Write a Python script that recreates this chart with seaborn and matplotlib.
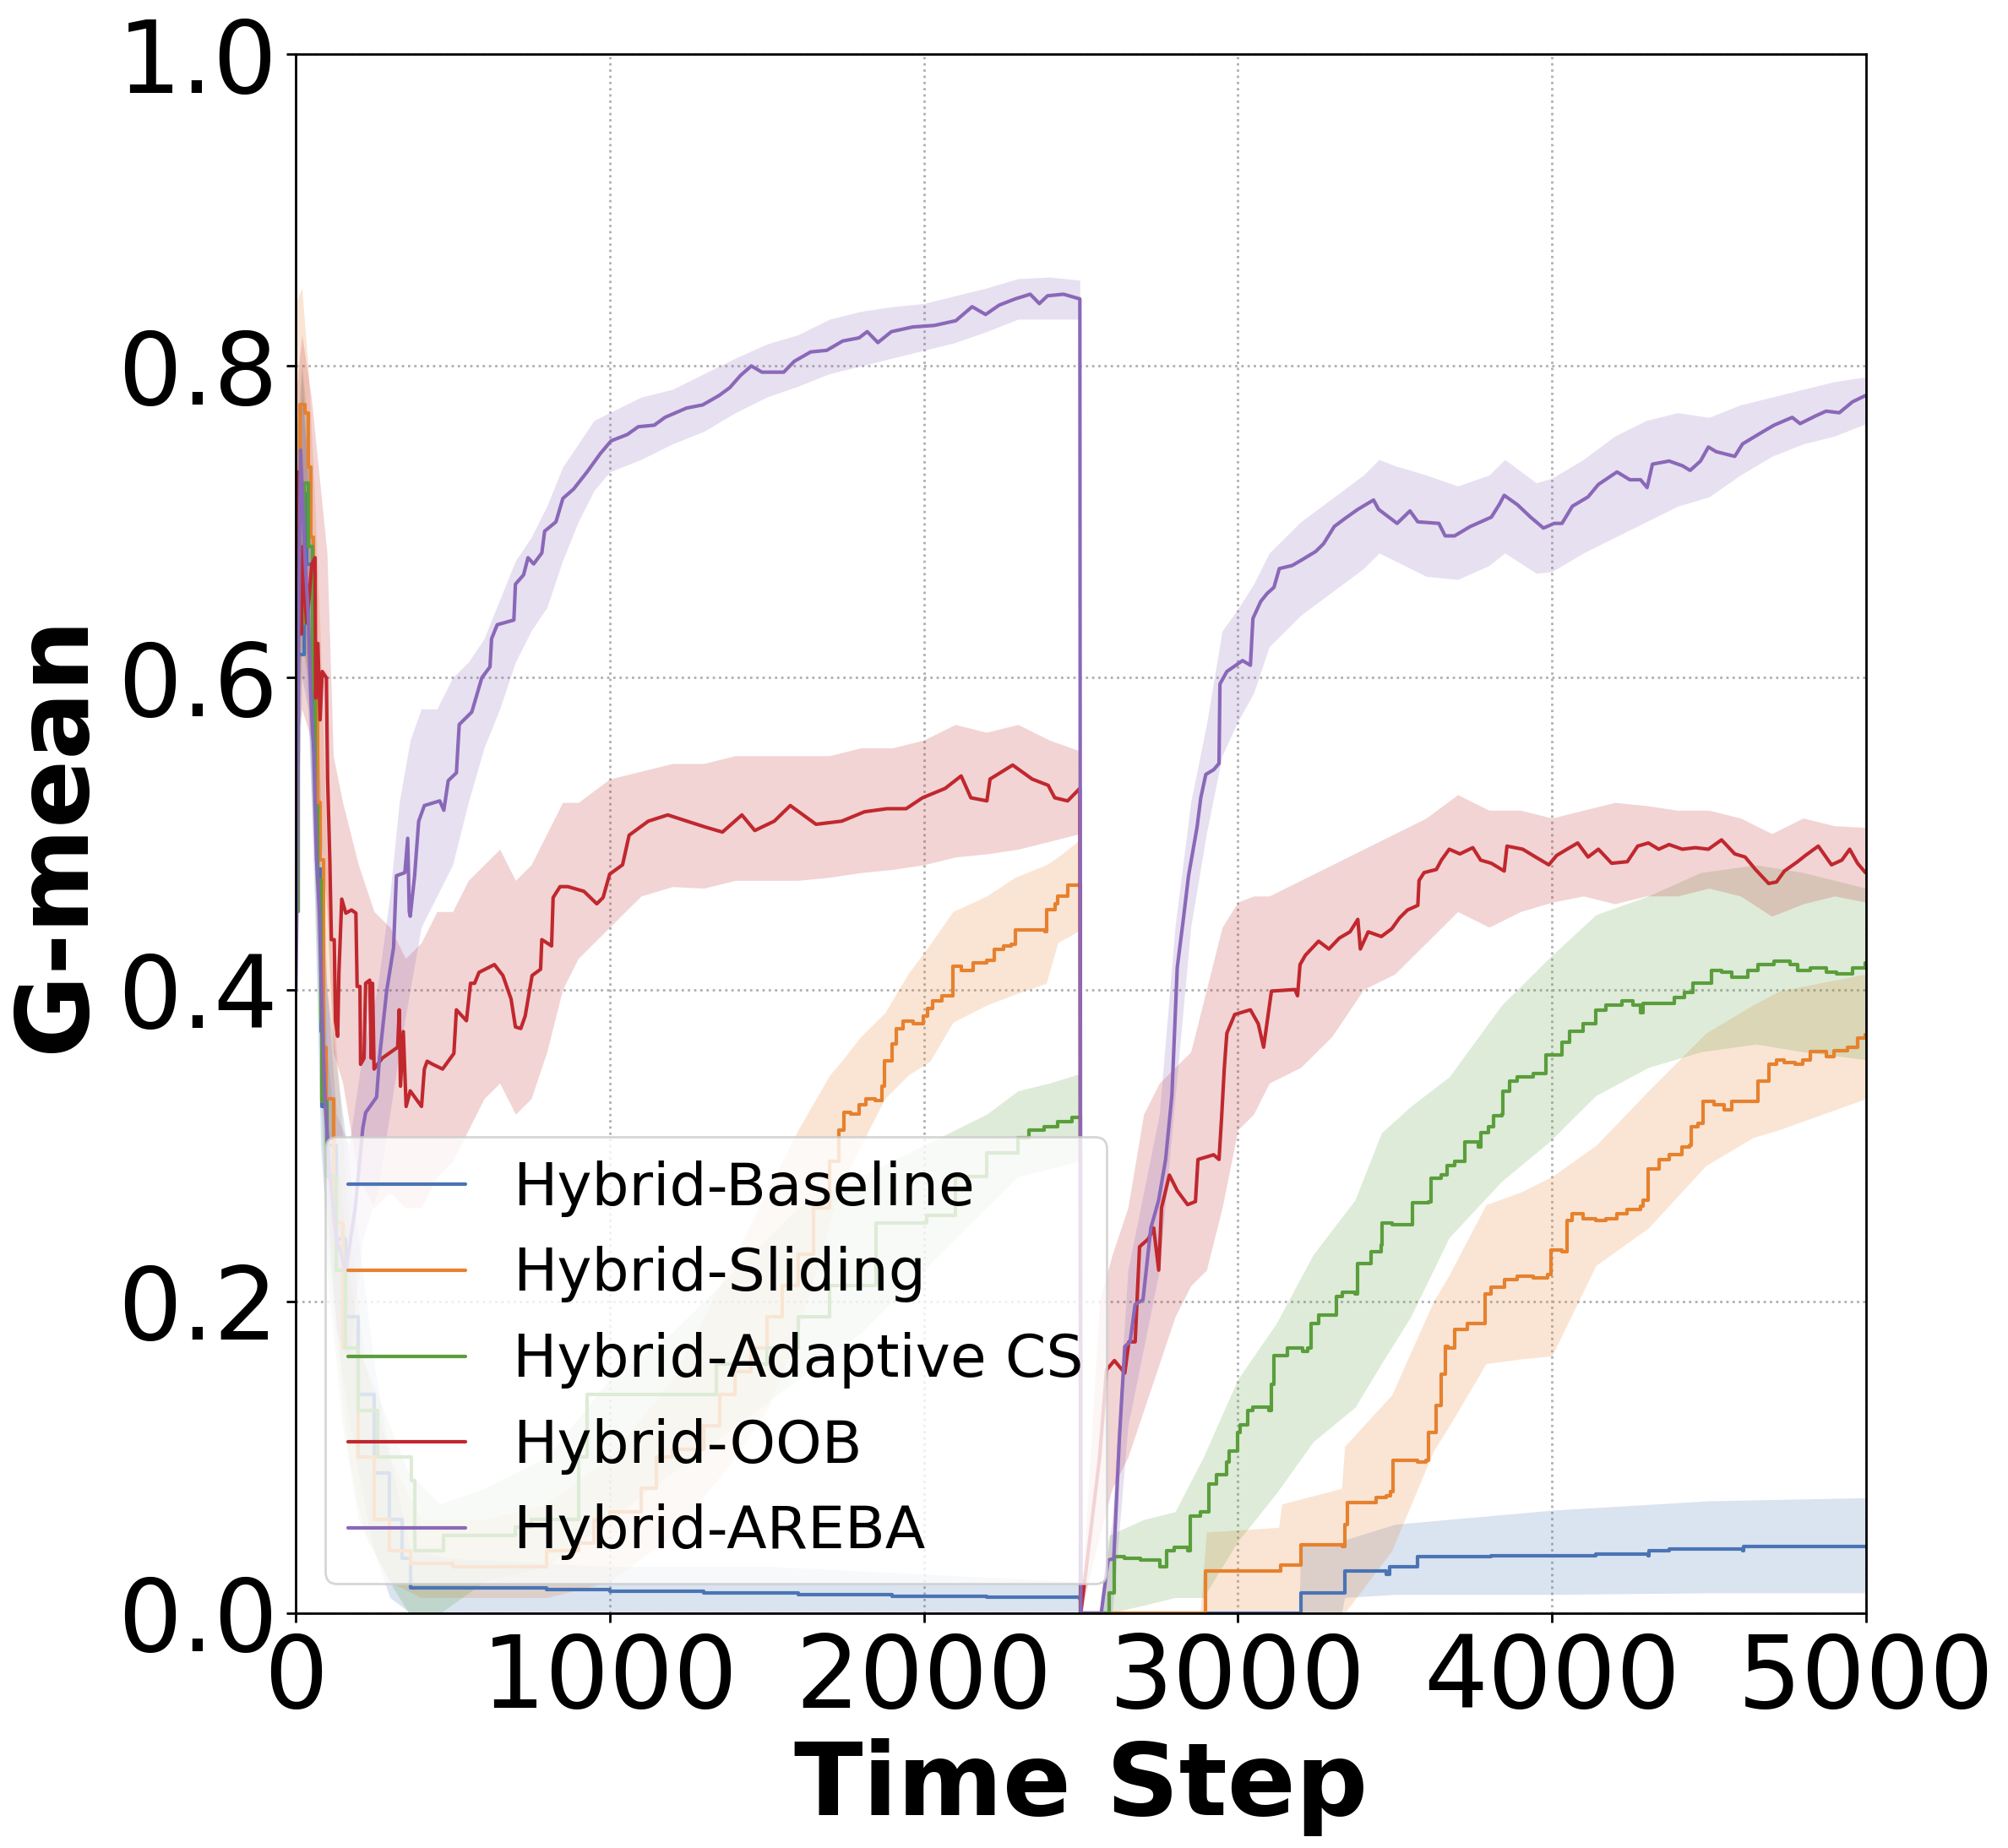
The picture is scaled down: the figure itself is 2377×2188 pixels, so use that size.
import matplotlib
matplotlib.use("Agg")
import matplotlib.pyplot as plt
import seaborn as sns

# -----------------------------------------------
# dados (G-mean ao longo do tempo)
# -----------------------------------------------

baseline_t = [0, 9, 27, 36, 53, 62, 71, 80, 85, 100, 130, 160, 200, 250, 300, 340, 366, 500, 800, 1000,
              1300, 1600, 1900, 2200, 2497, 2500, 3198, 3200, 3340, 3342, 3473, 3482, 3573, 3807, 4007,
              4140, 4307, 4310, 4373, 4607, 4610, 4723, 5000]
baseline_g = [0.45, 0.615, 0.718, 0.673, 0.57, 0.535, 0.477, 0.373, 0.325, 0.30, 0.24, 0.19, 0.14, 0.09,
              0.06, 0.035, 0.016, 0.016, 0.015, 0.014, 0.013, 0.012, 0.011, 0.01, 0.009, 0.0, 0.0, 0.013,
              0.013, 0.027, 0.025, 0.03, 0.036, 0.037, 0.037, 0.038, 0.037, 0.04, 0.041, 0.04, 0.043,
              0.043, 0.043]
baseline_bt = [0, 20, 40, 60, 80, 100, 150, 200, 250, 300, 366, 500, 1000, 1500, 2000, 2497, 2500,
               3195, 3200, 3330, 3340, 3500, 4000, 4500, 5000]
baseline_lo = [0.45, 0.60, 0.58, 0.46, 0.30, 0.24, 0.15, 0.09, 0.04, 0.01, 0.0, 0.0, 0.0, 0.0, 0.0, 0.0,
               0.0, 0.0, 0.0, 0.0, 0.01, 0.012, 0.012, 0.013, 0.013]
baseline_hi = [0.72, 0.78, 0.74, 0.62, 0.46, 0.40, 0.32, 0.24, 0.16, 0.10, 0.04, 0.035, 0.03, 0.03,
               0.025, 0.02, 0.0, 0.0, 0.045, 0.045, 0.047, 0.057, 0.066, 0.072, 0.074]

sliding_t = [0, 5, 13, 31, 40, 49, 58, 62, 71, 78, 89, 98, 120, 150, 200, 250, 300, 366, 500, 775, 800,
             900, 950, 1000, 1100, 1150, 1200, 1300, 1350, 1400, 1450, 1500, 1550, 1600, 1650, 1700,
             1731, 1745, 1768, 1795, 1817, 1844, 1867, 1876, 1898, 1912, 1935, 1966, 1998, 2011, 2029,
             2057, 2079, 2093, 2120, 2156, 2201, 2224, 2255, 2278, 2291, 2336, 2386, 2391, 2418, 2427,
             2454, 2458, 2497, 2500, 2895, 2898, 3123, 3137, 3198, 3202, 3332, 3340, 3348, 3398, 3440,
             3473, 3487, 3493, 3540, 3573, 3598, 3607, 3632, 3648, 3660, 3670, 3690, 3732, 3773, 3787,
             3807, 3848, 3890, 3940, 3987, 3998, 4032, 4048, 4065, 4098, 4140, 4173, 4207, 4240, 4282,
             4290, 4307, 4340, 4373, 4415, 4437, 4443, 4465, 4482, 4515, 4548, 4573, 4648, 4657, 4690,
             4715, 4740, 4773, 4798, 4823, 4873, 4898, 4940, 4973, 4998]
sliding_g = [0.5, 0.70, 0.775, 0.77, 0.735, 0.69, 0.65, 0.587, 0.52, 0.483, 0.363, 0.33, 0.25, 0.17,
             0.10, 0.06, 0.04, 0.032, 0.03, 0.03, 0.04, 0.045, 0.06, 0.065, 0.08, 0.10, 0.105, 0.12,
             0.14, 0.155, 0.17, 0.19, 0.21, 0.23, 0.26, 0.29, 0.31, 0.321, 0.320, 0.326, 0.33, 0.329,
             0.338, 0.354, 0.365, 0.375, 0.38, 0.378, 0.383, 0.388, 0.393, 0.396, 0.396, 0.415, 0.412,
             0.417, 0.419, 0.426, 0.428, 0.429, 0.438, 0.438, 0.437, 0.451, 0.455, 0.46, 0.46, 0.467,
             0.468, 0.0, 0.0, 0.027, 0.027, 0.031, 0.031, 0.044, 0.043, 0.057, 0.071, 0.071, 0.074,
             0.075, 0.078, 0.098, 0.098, 0.097, 0.098, 0.116, 0.133, 0.153, 0.171, 0.17, 0.182, 0.186,
             0.186, 0.205, 0.209, 0.214, 0.216, 0.215, 0.217, 0.233, 0.232, 0.252, 0.256, 0.253, 0.252,
             0.253, 0.256, 0.259, 0.261, 0.265, 0.285, 0.291, 0.294, 0.299, 0.30, 0.312, 0.314, 0.328,
             0.326, 0.323, 0.328, 0.328, 0.341, 0.352, 0.355, 0.353, 0.352, 0.355, 0.36, 0.357, 0.361,
             0.363, 0.369, 0.371]
sliding_bt = [0, 20, 40, 60, 80, 100, 130, 170, 220, 300, 400, 600, 800, 1000, 1200, 1400, 1500, 1600,
              1700, 1750, 1800, 1876, 1950, 2020, 2093, 2200, 2291, 2390, 2427, 2497, 2500, 2880, 2900,
              3130, 3140, 3330, 3340, 3490, 3623, 3673, 3790, 3900, 4000, 4140, 4307, 4490, 4640, 4723,
              5000]
sliding_lo = [0.55, 0.62, 0.60, 0.52, 0.42, 0.28, 0.18, 0.10, 0.05, 0.02, 0.01, 0.01, 0.01, 0.02, 0.05,
              0.10, 0.13, 0.18, 0.25, 0.28, 0.30, 0.33, 0.345, 0.354, 0.379, 0.39, 0.397, 0.404, 0.43,
              0.438, 0.0, 0.0, 0.0, 0.0, 0.0, 0.0, 0.0, 0.04, 0.104, 0.12, 0.16, 0.163, 0.165, 0.223,
              0.247, 0.287, 0.305, 0.31, 0.33]
sliding_hi = [0.84, 0.85, 0.80, 0.72, 0.62, 0.48, 0.36, 0.25, 0.16, 0.10, 0.06, 0.06, 0.07, 0.10, 0.15,
              0.23, 0.27, 0.31, 0.345, 0.357, 0.37, 0.385, 0.41, 0.429, 0.45, 0.46, 0.472, 0.48, 0.485,
              0.496, 0.0, 0.0, 0.052, 0.055, 0.07, 0.08, 0.107, 0.14, 0.20, 0.217, 0.262, 0.27, 0.28,
              0.30, 0.335, 0.372, 0.39, 0.399, 0.41]

adaptive_t = [0, 9, 27, 40, 53, 62, 71, 80, 85, 100, 130, 160, 200, 260, 370, 380, 460, 470, 700, 750,
              900, 928, 1337, 1340, 1500, 1600, 1700, 1848, 2010, 2100, 2200, 2300, 2336, 2382, 2427,
              2472, 2497, 2500, 2577, 2590, 2607, 2640, 2690, 2740, 2753, 2773, 2798, 2840, 2848, 2882,
              2907, 2932, 2965, 2973, 2998, 3007, 3032, 3048, 3098, 3107, 3115, 3157, 3207, 3223, 3232,
              3257, 3298, 3315, 3332, 3373, 3382, 3423, 3457, 3460, 3490, 3548, 3557, 3607, 3615, 3648,
              3665, 3690, 3723, 3765, 3773, 3798, 3815, 3840, 3843, 3865, 3890, 3940, 3982, 4032, 4057,
              4098, 4140, 4173, 4223, 4257, 4282, 4290, 4340, 4390, 4423, 4448, 4507, 4540, 4573, 4623,
              4657, 4707, 4757, 4782, 4823, 4873, 4907, 4957, 4998]
adaptive_g = [0.45, 0.635, 0.725, 0.684, 0.587, 0.518, 0.47, 0.38, 0.328, 0.28, 0.22, 0.17, 0.13, 0.10,
              0.085, 0.04, 0.04, 0.05, 0.055, 0.06, 0.10, 0.14, 0.14, 0.16, 0.17, 0.19, 0.21, 0.25,
              0.255, 0.28, 0.295, 0.305, 0.31, 0.312, 0.315, 0.318, 0.318, 0.0, 0.0, 0.013, 0.036,
              0.035, 0.034, 0.034, 0.03, 0.04, 0.042, 0.04, 0.062, 0.065, 0.083, 0.089, 0.097, 0.104,
              0.116, 0.121, 0.13, 0.132, 0.13, 0.147, 0.165, 0.17, 0.168, 0.17, 0.186, 0.191, 0.191,
              0.203, 0.206, 0.205, 0.224, 0.232, 0.236, 0.25, 0.249, 0.249, 0.263, 0.264, 0.279, 0.281,
              0.287, 0.29, 0.302, 0.299, 0.308, 0.312, 0.319, 0.32, 0.335, 0.341, 0.344, 0.346, 0.358,
              0.366, 0.373, 0.378, 0.387, 0.39, 0.393, 0.39, 0.385, 0.391, 0.391, 0.395, 0.398, 0.404,
              0.412, 0.411, 0.408, 0.412, 0.416, 0.418, 0.416, 0.412, 0.414, 0.411, 0.41, 0.414, 0.417]
adaptive_bt = [0, 20, 40, 60, 80, 100, 150, 200, 300, 360, 460, 600, 800, 1000, 1200, 1400, 1600, 1800,
               2000, 2200, 2300, 2400, 2497, 2500, 2560, 2590, 2700, 2800, 2890, 3000, 3123, 3240,
               3373, 3457, 3550, 3673, 3840, 3990, 4140, 4307, 4473, 4650, 4800, 5000]
adaptive_lo = [0.45, 0.64, 0.60, 0.48, 0.34, 0.22, 0.12, 0.06, 0.02, 0.0, 0.0, 0.02, 0.03, 0.06, 0.09,
               0.12, 0.15, 0.18, 0.22, 0.26, 0.28, 0.285, 0.29, 0.0, 0.0, 0.0, 0.005, 0.01, 0.01, 0.046,
               0.077, 0.11, 0.132, 0.16, 0.19, 0.241, 0.277, 0.302, 0.332, 0.35, 0.36, 0.365, 0.36,
               0.355]
adaptive_hi = [0.75, 0.80, 0.76, 0.62, 0.48, 0.36, 0.26, 0.17, 0.12, 0.09, 0.07, 0.08, 0.10, 0.15, 0.18,
               0.22, 0.26, 0.28, 0.30, 0.32, 0.335, 0.34, 0.346, 0.0, 0.0, 0.05, 0.06, 0.065, 0.10,
               0.15, 0.186, 0.23, 0.265, 0.308, 0.325, 0.344, 0.39, 0.42, 0.448, 0.46, 0.475, 0.48,
               0.475, 0.465]

oob_t = [0, 3, 6, 13, 18, 22, 27, 36, 52, 62, 64, 71, 78, 85, 98, 102, 109, 114, 123, 127, 134, 138,
         147, 160, 178, 192, 196, 205, 207, 218, 223, 236, 241, 245, 250, 276, 325, 330, 334, 343, 352,
         365, 401, 410, 419, 437, 468, 504, 512, 544, 557, 570, 584, 633, 660, 686, 700, 717, 731, 753,
         780, 784, 815, 820, 842, 867, 918, 959, 979, 1000, 1041, 1062, 1123, 1185, 1246, 1308, 1359,
         1421, 1462, 1524, 1575, 1657, 1739, 1811, 1883, 1944, 1996, 2068, 2119, 2150, 2201, 2211,
         2283, 2345, 2396, 2417, 2458, 2497, 2500, 2560, 2582, 2607, 2640, 2653, 2673, 2687, 2715,
         2732, 2748, 2757, 2782, 2807, 2840, 2865, 2873, 2923, 2940, 2948, 2957, 2965, 2990, 3040,
         3065, 3082, 3107, 3182, 3190, 3198, 3215, 3257, 3290, 3323, 3357, 3382, 3390, 3415, 3457,
         3490, 3515, 3540, 3573, 3577, 3593, 3632, 3648, 3673, 3707, 3748, 3773, 3807, 3848, 3857,
         3907, 3948, 3990, 4015, 4048, 4082, 4115, 4148, 4190, 4240, 4273, 4307, 4340, 4373, 4415,
         4457, 4498, 4540, 4582, 4615, 4648, 4690, 4715, 4740, 4782, 4807, 4848, 4890, 4923, 4948,
         4973, 4998]
oob_g = [0.55, 0.69, 0.732, 0.673, 0.628, 0.684, 0.656, 0.635, 0.673, 0.677, 0.587, 0.622, 0.573, 0.604,
         0.60, 0.535, 0.483, 0.432, 0.432, 0.38, 0.37, 0.411, 0.458, 0.449, 0.451, 0.449, 0.402, 0.402,
         0.352, 0.356, 0.404, 0.406, 0.356, 0.404, 0.349, 0.356, 0.363, 0.387, 0.338, 0.373, 0.325,
         0.335, 0.325, 0.349, 0.354, 0.352, 0.349, 0.359, 0.387, 0.38, 0.404, 0.404, 0.411, 0.416,
         0.409, 0.394, 0.376, 0.375, 0.383, 0.409, 0.413, 0.432, 0.428, 0.459, 0.466, 0.466, 0.463,
         0.455, 0.459, 0.474, 0.48, 0.499, 0.508, 0.512, 0.508, 0.504, 0.501, 0.512, 0.502, 0.508,
         0.518, 0.506, 0.508, 0.514, 0.516, 0.516, 0.523, 0.529, 0.537, 0.523, 0.521, 0.535, 0.544,
         0.535, 0.531, 0.523, 0.521, 0.529, 0.0, 0.10, 0.156, 0.162, 0.154, 0.174, 0.174, 0.235, 0.24,
         0.247, 0.22, 0.26, 0.281, 0.271, 0.262, 0.264, 0.291, 0.294, 0.291, 0.317, 0.35, 0.372,
         0.384, 0.387, 0.378, 0.363, 0.399, 0.40, 0.396, 0.416, 0.422, 0.431, 0.426, 0.433, 0.437,
         0.445, 0.426, 0.437, 0.434, 0.439, 0.446, 0.451, 0.454, 0.47, 0.475, 0.477, 0.483, 0.49,
         0.487, 0.491, 0.483, 0.481, 0.476, 0.492, 0.49, 0.485, 0.48, 0.486, 0.49, 0.494, 0.485, 0.49,
         0.481, 0.482, 0.492, 0.494, 0.49, 0.493, 0.49, 0.491, 0.49, 0.496, 0.487, 0.485, 0.477,
         0.468, 0.469, 0.476, 0.482, 0.486, 0.492, 0.48, 0.483, 0.49, 0.481, 0.475]
oob_bt = [0, 20, 50, 80, 100, 120, 150, 200, 250, 300, 350, 400, 450, 500, 550, 600, 650, 700, 750, 800,
          850, 900, 1000, 1100, 1200, 1300, 1400, 1500, 1600, 1700, 1800, 1900, 2000, 2100, 2200, 2300,
          2400, 2497, 2500, 2560, 2600, 2650, 2700, 2750, 2800, 2850, 2900, 2950, 3000, 3050, 3100,
          3200, 3300, 3400, 3500, 3600, 3700, 3800, 3900, 4000, 4100, 4200, 4300, 4400, 4500, 4600,
          4700, 4800, 4900, 5000]
oob_lo = [0.55, 0.58, 0.56, 0.50, 0.45, 0.36, 0.34, 0.28, 0.26, 0.27, 0.26, 0.26, 0.28, 0.29, 0.31,
          0.33, 0.34, 0.32, 0.33, 0.36, 0.40, 0.42, 0.44, 0.46, 0.466, 0.465, 0.47, 0.47, 0.47, 0.472,
          0.475, 0.477, 0.48, 0.485, 0.487, 0.49, 0.495, 0.50, 0.0, 0.05, 0.08, 0.10, 0.13, 0.16, 0.19,
          0.21, 0.22, 0.26, 0.31, 0.32, 0.34, 0.35, 0.37, 0.40, 0.41, 0.43, 0.45, 0.44, 0.45, 0.456,
          0.46, 0.455, 0.46, 0.46, 0.465, 0.46, 0.447, 0.455, 0.46, 0.456]
oob_hi = [0.78, 0.82, 0.78, 0.72, 0.68, 0.55, 0.52, 0.48, 0.45, 0.44, 0.42, 0.43, 0.45, 0.45, 0.47,
          0.48, 0.49, 0.47, 0.48, 0.50, 0.52, 0.52, 0.535, 0.54, 0.545, 0.545, 0.55, 0.55, 0.55, 0.55,
          0.555, 0.555, 0.56, 0.57, 0.565, 0.57, 0.56, 0.553, 0.0, 0.20, 0.23, 0.26, 0.32, 0.34, 0.35,
          0.36, 0.40, 0.44, 0.456, 0.46, 0.46, 0.47, 0.48, 0.49, 0.50, 0.51, 0.525, 0.515, 0.515,
          0.51, 0.515, 0.52, 0.518, 0.515, 0.515, 0.51, 0.50, 0.51, 0.505, 0.504]

areba_t = [1, 4, 9, 16, 22, 31, 40, 49, 58, 67, 76, 85, 94, 110, 130, 160, 190, 214, 223, 258, 267, 290,
           312, 321, 348, 357, 362, 365, 379, 392, 410, 459, 472, 486, 512, 521, 561, 593, 619, 624, 642,
           695, 700, 726, 740, 758, 784, 793, 829, 851, 885, 928, 971, 1005, 1056, 1091, 1142, 1176,
           1245, 1296, 1348, 1382, 1417, 1451, 1485, 1554, 1588, 1640, 1691, 1742, 1794, 1820, 1854,
           1897, 1965, 2034, 2102, 2154, 2197, 2240, 2291, 2339, 2368, 2394, 2445, 2497, 2500, 2565,
           2587, 2605, 2623, 2640, 2657, 2673, 2698, 2723, 2748, 2770, 2790, 2807, 2827, 2843, 2870,
           2882, 2898, 2923, 2940, 2943, 2965, 3015, 3040, 3048, 3073, 3093, 3115, 3132, 3173, 3207,
           3248, 3273, 3307, 3340, 3382, 3432, 3448, 3507, 3548, 3573, 3640, 3660, 3690, 3740, 3807,
           3832, 3848, 3890, 3932, 3973, 4007, 4032, 4065, 4115, 4148, 4207, 4248, 4282, 4303, 4320,
           4373, 4415, 4440, 4473, 4498, 4523, 4582, 4607, 4640, 4673, 4707, 4765, 4790, 4840, 4873,
           4915, 4957, 4998]
areba_g = [0.40, 0.449, 0.62, 0.746, 0.715, 0.673, 0.642, 0.587, 0.552, 0.483, 0.449, 0.38, 0.328, 0.28,
           0.24, 0.22, 0.26, 0.311, 0.321, 0.331, 0.356, 0.399, 0.427, 0.473, 0.475, 0.497, 0.45, 0.447,
           0.473, 0.508, 0.518, 0.521, 0.515, 0.534, 0.539, 0.570, 0.578, 0.60, 0.607, 0.625, 0.634,
           0.637, 0.66, 0.666, 0.677, 0.673, 0.68, 0.694, 0.70, 0.715, 0.721, 0.732, 0.744, 0.752, 0.756,
           0.761, 0.762, 0.767, 0.773, 0.775, 0.781, 0.786, 0.794, 0.80, 0.796, 0.796, 0.803, 0.809,
           0.81, 0.816, 0.818, 0.822, 0.815, 0.822, 0.825, 0.826, 0.829, 0.838, 0.833, 0.839, 0.843,
           0.846, 0.840, 0.845, 0.846, 0.843, 0.0, 0.0, 0.034, 0.035, 0.113, 0.171, 0.174, 0.198, 0.201,
           0.247, 0.265, 0.291, 0.332, 0.414, 0.446, 0.473, 0.504, 0.523, 0.538, 0.541, 0.545, 0.596,
           0.604, 0.611, 0.608, 0.638, 0.649, 0.654, 0.658, 0.67, 0.672, 0.676, 0.681, 0.686, 0.697,
           0.702, 0.708, 0.714, 0.708, 0.699, 0.707, 0.70, 0.699, 0.691, 0.691, 0.697, 0.703, 0.711,
           0.717, 0.711, 0.703, 0.696, 0.699, 0.699, 0.71, 0.716, 0.724, 0.732, 0.727, 0.727, 0.722,
           0.737, 0.739, 0.736, 0.733, 0.739, 0.748, 0.745, 0.742, 0.75, 0.754, 0.758, 0.762, 0.767,
           0.763, 0.768, 0.771, 0.77, 0.777, 0.781]
areba_bt = [1, 20, 40, 60, 80, 100, 130, 170, 214, 260, 300, 330, 365, 400, 450, 500, 550, 600, 650, 700,
            750, 800, 850, 900, 950, 1000, 1100, 1200, 1300, 1400, 1500, 1600, 1700, 1800, 1900, 2000,
            2100, 2200, 2300, 2400, 2497, 2500, 2560, 2600, 2650, 2700, 2750, 2800, 2850, 2900, 2950,
            3000, 3050, 3100, 3200, 3300, 3400, 3450, 3500, 3600, 3700, 3800, 3850, 3950, 4000, 4100,
            4200, 4300, 4400, 4500, 4600, 4700, 4800, 4900, 5000]
areba_lo = [0.36, 0.66, 0.58, 0.48, 0.36, 0.26, 0.18, 0.16, 0.24, 0.27, 0.32, 0.36, 0.40, 0.44, 0.46,
            0.48, 0.52, 0.555, 0.58, 0.61, 0.63, 0.645, 0.675, 0.70, 0.72, 0.732, 0.74, 0.75, 0.758,
            0.77, 0.78, 0.787, 0.795, 0.80, 0.805, 0.81, 0.815, 0.822, 0.83, 0.83, 0.83, 0.0, 0.0, 0.0,
            0.12, 0.17, 0.22, 0.33, 0.44, 0.50, 0.55, 0.572, 0.59, 0.62, 0.64, 0.655, 0.67, 0.68, 0.675,
            0.665, 0.663, 0.672, 0.68, 0.667, 0.668, 0.68, 0.69, 0.70, 0.71, 0.716, 0.73, 0.742, 0.75,
            0.755, 0.763]
areba_hi = [0.62, 0.80, 0.72, 0.64, 0.52, 0.40, 0.32, 0.30, 0.36, 0.40, 0.46, 0.52, 0.56, 0.58, 0.58,
            0.60, 0.61, 0.625, 0.65, 0.675, 0.69, 0.71, 0.735, 0.75, 0.765, 0.77, 0.78, 0.785, 0.795,
            0.805, 0.814, 0.82, 0.83, 0.835, 0.838, 0.84, 0.845, 0.85, 0.856, 0.857, 0.855, 0.0, 0.0,
            0.06, 0.22, 0.27, 0.32, 0.44, 0.52, 0.57, 0.63, 0.644, 0.66, 0.68, 0.70, 0.715, 0.73, 0.74,
            0.736, 0.73, 0.723, 0.73, 0.74, 0.725, 0.728, 0.74, 0.755, 0.765, 0.77, 0.767, 0.775, 0.78,
            0.785, 0.79, 0.793]

# -----------------------------------------------
# estilo
# -----------------------------------------------

sns.set_style("ticks")
plt.rcParams["font.family"] = ["DejaVu Sans"]
plt.rcParams["text.color"] = "black"
plt.rcParams["axes.labelcolor"] = "black"
plt.rcParams["xtick.color"] = "black"
plt.rcParams["ytick.color"] = "black"

# nome, cor, modo de desenho, dados
series = [
    ("Hybrid-Baseline", "#4a74b4", "steps-post", baseline_t, baseline_g, baseline_bt, baseline_lo, baseline_hi),
    ("Hybrid-Sliding", "#e6812e", "steps-post", sliding_t, sliding_g, sliding_bt, sliding_lo, sliding_hi),
    ("Hybrid-Adaptive CS", "#5a9e3c", "steps-post", adaptive_t, adaptive_g, adaptive_bt, adaptive_lo, adaptive_hi),
    ("Hybrid-OOB", "#c0282e", "default", oob_t, oob_g, oob_bt, oob_lo, oob_hi),
    ("Hybrid-AREBA", "#8a68b8", "default", areba_t, areba_g, areba_bt, areba_lo, areba_hi),
]

fig = plt.figure(figsize=(11.885, 10.94), dpi=200)
ax = fig.add_axes([0.1472, 0.1271, 0.7821, 0.8436])

for nome, cor, modo, t, g, bt, lo, hi in series:
    ax.fill_between(bt, lo, hi, color=cor, alpha=0.2, linewidth=0)
    sns.lineplot(x=t, y=g, ax=ax, color=cor, linewidth=1.5, label=nome, sort=False,
                 estimator=None, drawstyle=modo)

ax.set_xlim(0, 5000)
ax.set_ylim(0, 1)
ax.set_xticks([0, 1000, 2000, 3000, 4000, 5000])
ax.set_yticks([0.0, 0.2, 0.4, 0.6, 0.8, 1.0])
ax.set_yticklabels(["0.0", "0.2", "0.4", "0.6", "0.8", "1.0"])
ax.tick_params(labelsize=43, length=4, width=1, colors="black")
ax.grid(True, linestyle=":", color="#b0b0b0", linewidth=1)
for s in ax.spines.values():
    s.set_visible(True)
    s.set_color("black")
    s.set_linewidth(1)

ax.set_xlabel("Time Step", fontsize=43, fontweight="bold", labelpad=4)
ax.set_ylabel("G-mean", fontsize=43, fontweight="bold", labelpad=5.5)
ax.legend(loc="lower left", fontsize=25)

plt.savefig("out.png", dpi=200)
